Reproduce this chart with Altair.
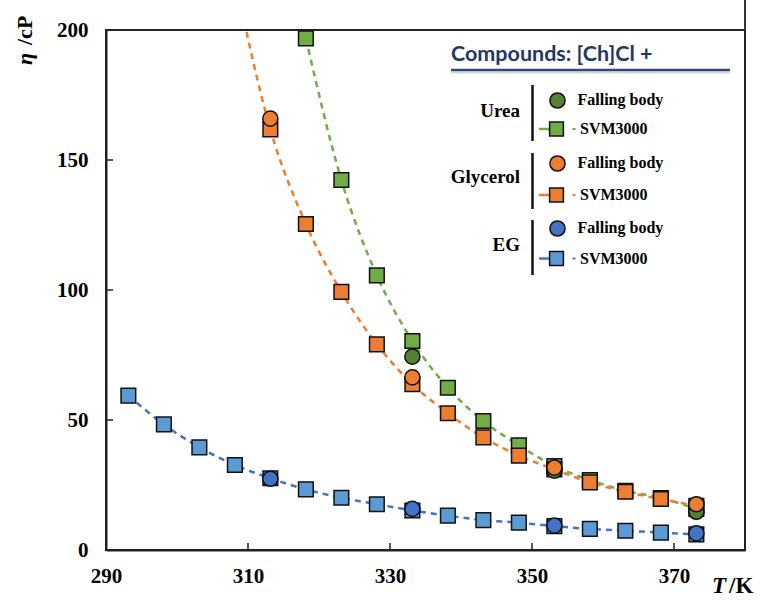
import altair as alt
import pandas as pd

# ---------------- data ----------------
T_svm = [293.15, 298.15, 303.15, 308.15, 313.15, 318.15, 323.15, 328.15, 333.15,
         338.15, 343.15, 348.15, 353.15, 358.15, 363.15, 368.15, 373.15]
eg_svm = [59.4, 48.3, 39.5, 32.7, 27.6, 23.3, 20.1, 17.6, 15.2, 13.2, 11.5, 10.5,
          9.2, 8.1, 7.4, 6.7, 6.0]
# glycerol SVM3000 (first value is above the axis, only its curve is seen)
T_gly_svm = [308.15, 313.15, 318.15, 323.15, 328.15, 333.15, 338.15, 343.15,
             348.15, 353.15, 358.15, 363.15, 368.15, 373.15]
gly_svm = [220.0, 161.8, 125.4, 99.3, 79.1, 63.8, 52.6, 43.3, 36.3, 31.0, 26.0,
           22.4, 19.6, 17.0]
T_urea_svm = [318.15, 323.15, 328.15, 333.15, 338.15, 343.15, 348.15, 353.15,
              358.15, 363.15, 368.15, 373.15]
urea_svm = [196.8, 142.3, 105.6, 80.4, 62.4, 49.6, 40.3, 32.3, 26.9, 22.8, 20.0, 15.8]

T_fb = [313.15, 333.15, 353.15, 373.15]
eg_fb = [27.4, 15.8, 9.4, 6.4]
gly_fb = [165.9, 66.4, 31.7, 17.6]
T_urea_fb = [333.15, 353.15, 373.15]
urea_fb = [74.4, 30.5, 14.7]

x_ticks = [290, 310, 330, 350, 370]
y_ticks = [0, 50, 100, 150, 200]

compounds = ["Urea", "Glycerol", "EG"]
legend_title = "Compounds: [Ch]Cl +"

# ---------------- styles ----------------
W, H = 639, 520
SERIF = "Liberation Serif"
line_col = {"Urea": "#70AD47", "Glycerol": "#ED7D31", "EG": "#4472C4"}
sq_col = {"Urea": "#70AD47", "Glycerol": "#ED7D31", "EG": "#5B9BD5"}
ci_col = {"Urea": "#548235", "Glycerol": "#ED7D31", "EG": "#4472C4"}

xs = alt.Scale(domain=[290, 380], nice=False, zero=False)
ys = alt.Scale(domain=[0, 200], nice=False, zero=False)
xaxis = alt.Axis(values=x_ticks, format="d", title=None, ticks=False, grid=False,
                 labelFont=SERIF, labelFontWeight="bold", labelFontSize=21,
                 labelColor="black", labelPadding=15, domainColor="#222",
                 domainWidth=2, labelFlush=False)
yaxis = alt.Axis(values=y_ticks, format="d", title=None, ticks=False, grid=False,
                 labelFont=SERIF, labelFontWeight="bold", labelFontSize=21,
                 labelColor="black", labelPadding=18, domainColor="#222",
                 domainWidth=2)
X = alt.X("T:Q", scale=xs, axis=xaxis)
Y = alt.Y("eta:Q", scale=ys, axis=yaxis)

def df(t, v):
    return pd.DataFrame({"T": t, "eta": v})

svm = {"Urea": df(T_urea_svm, urea_svm), "Glycerol": df(T_gly_svm, gly_svm),
       "EG": df(T_svm, eg_svm)}
fb = {"Urea": df(T_urea_fb, urea_fb), "Glycerol": df(T_fb, gly_fb),
      "EG": df(T_fb, eg_fb)}

layers = []
# dashed curves
for c in ["EG", "Urea", "Glycerol"]:
    layers.append(alt.Chart(svm[c]).mark_line(
        color=line_col[c], strokeWidth=2.5, strokeDash=[6, 5],
        interpolate="monotone", clip=True).encode(x=X, y=Y))
# inward ticks
layers.append(alt.Chart(pd.DataFrame({"T": x_ticks})).mark_rule(
    color="#222", strokeWidth=1.5).encode(x=X, y=alt.value(H), y2=alt.value(H - 7)))
layers.append(alt.Chart(pd.DataFrame({"eta": y_ticks})).mark_rule(
    color="#222", strokeWidth=1.5).encode(y=Y, x=alt.value(0), x2=alt.value(7)))
# squares (SVM3000)
for c in ["EG", "Urea", "Glycerol"]:
    d = svm[c][svm[c]["eta"] <= 200]
    layers.append(alt.Chart(d).mark_square(
        size=215, color=sq_col[c], opacity=1, stroke="#111", strokeWidth=1.5
    ).encode(x=X, y=Y))
# circles (falling body)
for c in ["Urea", "Glycerol", "EG"]:
    layers.append(alt.Chart(fb[c]).mark_circle(
        size=230, color=ci_col[c], opacity=1, stroke="#111", strokeWidth=1.5
    ).encode(x=X, y=Y))

one = pd.DataFrame({"a": [0]})

def txt(s, x, y, **kw):
    return alt.Chart(one).mark_text(**kw).encode(
        x=alt.value(x), y=alt.value(y), text=alt.value(s))

def rule(x, x2, y, y2, **kw):
    return alt.Chart(one).mark_rule(**kw).encode(
        x=alt.value(x), x2=alt.value(x2), y=alt.value(y), y2=alt.value(y2))

# axis titles
layers.append(txt("η", -81, 35, angle=270, align="left", baseline="middle",
                  font=SERIF, fontSize=22, fontWeight="bold", fontStyle="italic",
                  color="black"))
layers.append(txt("/cP", -81, 15, angle=270, align="left", baseline="middle",
                  font=SERIF, fontSize=22, fontWeight="bold", color="black"))
layers.append(txt("T", 606, 563, align="left", baseline="alphabetic",
                  font=SERIF, fontSize=23, fontWeight="bold", fontStyle="italic",
                  color="black"))
layers.append(txt("/K", 623, 563, align="left", baseline="alphabetic",
                  font=SERIF, fontSize=23, fontWeight="bold", color="black"))
# frame extension above the plot on the right
layers.append(rule(W, W, -30, 0, color="#333", strokeWidth=2))

# custom legend
layers.append(txt(legend_title, 345, 25, align="left", baseline="middle",
                  font="Lato", fontSize=21.5, fontWeight="bold", color="#1F3864"))
layers.append(rule(345, 624, 42.5, 42.5, color="#d5d5d5", strokeWidth=2))
layers.append(rule(345, 624, 40, 40, color="#2F4A7A", strokeWidth=2.5))

grp_y = [81, 147, 215]
bar_y = [(55, 111), (123, 179), (190, 245)]
fb_y = [70.5, 133.5, 198.5]
sv_y = [99, 165, 228.5]
for i, c in enumerate(compounds):
    layers.append(txt(c, 414, grp_y[i], align="right", baseline="middle",
                      font=SERIF, fontSize=19, fontWeight="bold", color="black"))
    layers.append(rule(426.5, 426.5, bar_y[i][0], bar_y[i][1], color="#111",
                       strokeWidth=2.5))
    layers.append(alt.Chart(one).mark_circle(
        size=230, color=ci_col[c], opacity=1, stroke="#111", strokeWidth=1.5
    ).encode(x=alt.value(451.5), y=alt.value(fb_y[i])))
    layers.append(txt("Falling body", 471.5, fb_y[i] - 1, align="left",
                      baseline="middle", font=SERIF, fontSize=16,
                      fontWeight="bold", color="black"))
    layers.append(rule(433, 444, sv_y[i], sv_y[i], color=line_col[c],
                       strokeWidth=2.5))
    layers.append(rule(466.5, 469.5, sv_y[i], sv_y[i], color=line_col[c],
                       strokeWidth=2))
    layers.append(alt.Chart(one).mark_square(
        size=190, color=sq_col[c], opacity=1, stroke="#111", strokeWidth=1.5
    ).encode(x=alt.value(450.5), y=alt.value(sv_y[i])))
    layers.append(txt("SVM3000", 474, sv_y[i], align="left", baseline="middle",
                      font=SERIF, fontSize=16, fontWeight="bold", color="black"))

chart = alt.layer(*layers).properties(
    width=W, height=H,
    autosize=alt.AutoSizeParams(type="none"),
    padding={"left": 106, "top": 30, "right": 15, "bottom": 52},
    background="white",
).configure_view(stroke="#222", strokeWidth=2)

chart.save("out.html", embed_options={"renderer": "svg", "actions": False})
